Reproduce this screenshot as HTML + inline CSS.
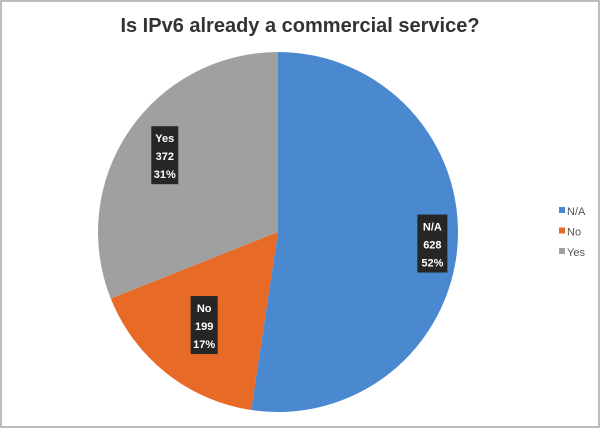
<!DOCTYPE html>
<html><head><meta charset="utf-8"><style>
body{margin:0;background:#fff;}
#c{position:relative;width:596px;height:424px;border:2px solid #bdbdbd;background:#fff;overflow:hidden;font-family:"Liberation Sans",sans-serif;}
</style></head><body>
<div id="c">
<svg width="596" height="424">
<text x="298" y="30" text-anchor="middle" font-size="20" font-weight="bold" fill="#333">Is IPv6 already a commercial service?</text>
<g id="pie"></g>
<g id="labels"></g>
<g id="legend"></g>
</svg>
</div>
<script>
const categories=["N/A","No","Yes"];
const values=[628,199,372];
const percents=["52%","17%","31%"];
const colors=["#4a89cf","#e86a27","#a0a0a0"];
const cx=276,cy=230,r=180;
const NS="http://www.w3.org/2000/svg";
const total=values.reduce((a,b)=>a+b,0);
const pie=document.getElementById('pie'),lab=document.getElementById('labels'),leg=document.getElementById('legend');
function pt(a,rr){return [cx+rr*Math.sin(a),cy-rr*Math.cos(a)];}
let acc=0;
const labelR=[0.86,0.66,0.76];
values.forEach((v,i)=>{
  const a0=acc/total*2*Math.PI;acc+=v;const a1=acc/total*2*Math.PI;
  const p0=pt(a0,r),p1=pt(a1,r);
  const path=document.createElementNS(NS,'path');
  path.setAttribute('d',`M${cx},${cy}L${p0[0]},${p0[1]}A${r},${r} 0 ${a1-a0>Math.PI?1:0} 1 ${p1[0]},${p1[1]}Z`);
  path.setAttribute('fill',colors[i]);
  
  
  pie.appendChild(path);
  const am=(a0+a1)/2;const lp=pt(am,r*labelR[i]);
  const g=document.createElementNS(NS,'g');
  
  
  const w=i==0?30:27,h=58;
  const rect=document.createElementNS(NS,'rect');
  rect.setAttribute('x',lp[0]-w/2);rect.setAttribute('y',lp[1]-h/2);
  rect.setAttribute('width',w);rect.setAttribute('height',h);rect.setAttribute('fill','#262626');
  g.appendChild(rect);
  [categories[i],String(v),percents[i]].forEach((s,k)=>{
    const t=document.createElementNS(NS,'text');
    t.setAttribute('x',lp[0]);t.setAttribute('y',lp[1]-13+k*18);
    t.setAttribute('text-anchor','middle');t.setAttribute('font-size','11');t.setAttribute('font-weight','bold');
    t.setAttribute('fill','#fff');t.textContent=s;g.appendChild(t);
  });
  lab.appendChild(g);
  const lg=document.createElementNS(NS,'g');
  
  
  const sq=document.createElementNS(NS,'rect');
  sq.setAttribute('x',557);sq.setAttribute('y',205+i*20.5);sq.setAttribute('width',6);sq.setAttribute('height',6);sq.setAttribute('fill',colors[i]);
  lg.appendChild(sq);
  const lt=document.createElementNS(NS,'text');
  lt.setAttribute('x',565);lt.setAttribute('y',213+i*20.5);lt.setAttribute('font-size','11');lt.setAttribute('fill','#555');
  lt.textContent=categories[i];lg.appendChild(lt);
  leg.appendChild(lg);
});
</script>
</body></html>
